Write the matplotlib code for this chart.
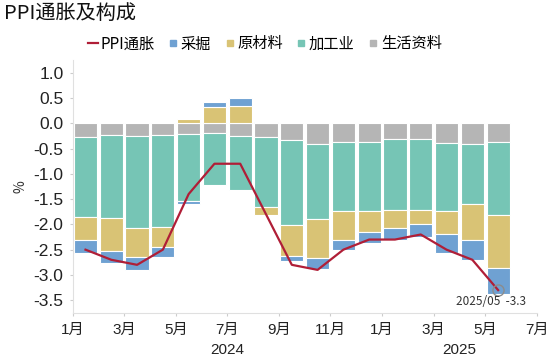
import numpy as np
import matplotlib
matplotlib.use("Agg")
import matplotlib.pyplot as plt
from matplotlib.lines import Line2D
from matplotlib.transforms import blended_transform_factory

plt.rcParams['font.family'] = ['Noto Sans CJK SC', 'DejaVu Sans']
plt.rcParams['axes.unicode_minus'] = False

# 数据 2024/01 - 2025/05
months = ["2024/01", "2024/02", "2024/03", "2024/04", "2024/05", "2024/06",
          "2024/07", "2024/08", "2024/09", "2024/10", "2024/11", "2024/12",
          "2025/01", "2025/02", "2025/03", "2025/04", "2025/05"]
ppi = [-2.5, -2.7, -2.8, -2.5, -1.4, -0.8, -0.8, -1.8, -2.8, -2.9, -2.5, -2.3,
       -2.3, -2.2, -2.5, -2.7, -3.3]
caijue = [-0.26, -0.24, -0.25, -0.20, -0.05, 0.11, 0.16, 0.03, -0.10, -0.22, -0.20, -0.21,
          -0.23, -0.26, -0.36, -0.41, -0.51]
yuancailiao = [-0.44, -0.66, -0.57, -0.38, 0.09, 0.32, 0.34, -0.16, -0.62, -0.77, -0.57, -0.43,
               -0.36, -0.28, -0.47, -0.70, -1.05]
jiagong = [-1.58, -1.63, -1.82, -1.82, -1.32, -1.02, -1.06, -1.37, -1.67, -1.48, -1.36, -1.36,
           -1.39, -1.39, -1.34, -1.19, -1.44]
shenghuo = [-0.28, -0.24, -0.26, -0.24, -0.22, -0.20, -0.26, -0.28, -0.34, -0.41, -0.37, -0.37,
            -0.32, -0.32, -0.39, -0.41, -0.37]

tick_labels = ["1月", "3月", "5月", "7月", "9月", "11月", "1月", "3月", "5月", "7月"]
years = ["2024", "2025"]

c_line = "#B01E37"
c_blue = "#6FA1D2"
c_yellow = "#D9C375"
c_teal = "#76C5B5"
c_gray = "#B5B5B5"

num_font = ['Liberation Sans', 'Noto Sans CJK SC']

x = np.arange(len(months)) + 0.5

fig = plt.figure(figsize=(5.5, 3.6), dpi=100)
ax = fig.add_axes([0.132, 0.131, 0.844, 0.702])

# 堆叠：靠近0依次为 生活资料、加工业、原材料、采掘
series = [(shenghuo, c_gray), (jiagong, c_teal), (yuancailiao, c_yellow), (caijue, c_blue)]
pos_base = np.zeros(len(months))
neg_base = np.zeros(len(months))
for vals, col in series:
    vals = np.array(vals)
    bottom = np.where(vals >= 0, pos_base, neg_base)
    ax.bar(x, vals, width=0.9, bottom=bottom, color=col, edgecolor="white", linewidth=0.8, zorder=2)
    pos_base = pos_base + np.where(vals >= 0, vals, 0)
    neg_base = neg_base + np.where(vals < 0, vals, 0)

ax.plot(x, ppi, color=c_line, linewidth=1.6, zorder=3)
ax.plot(x[-1], ppi[-1], marker="o", markersize=8, markerfacecolor="none",
        markeredgecolor="#8C8C8C", markeredgewidth=1.0, zorder=4)
ax.annotate("2025/05  -3.3", (x[-1], ppi[-1]), xytext=(-5, -8), textcoords="offset points",
            ha="center", va="center", fontsize=8.5, color="#333333", zorder=5)

ax.set_xlim(0, 18)
ax.set_ylim(-3.75, 1.25)
yt = np.arange(-3.5, 1.01, 0.5)
ax.set_yticks(yt)
ax.set_yticklabels([f"{v:.1f}" for v in yt], fontsize=12.5, color="#222222", family=num_font)
ax.set_xticks(np.arange(0, 19, 2))
ax.set_xticklabels(tick_labels, fontsize=11, color="#222222", family=num_font)
ax.tick_params(axis="both", length=2.5, color="#CCCCCC", width=0.8)
ax.tick_params(axis="x", pad=5)
ax.tick_params(axis="y", pad=4)

for s in ["top", "right"]:
    ax.spines[s].set_visible(False)
for s in ["left", "bottom"]:
    ax.spines[s].set_color("#E0E0E0")
    ax.spines[s].set_linewidth(0.8)

trans = blended_transform_factory(ax.transData, ax.transAxes)
ax.text(6, -0.146, years[0], transform=trans, ha="center", va="center", fontsize=11,
        color="#222222", family=num_font)
ax.text(15, -0.146, years[1], transform=trans, ha="center", va="center", fontsize=11,
        color="#222222", family=num_font)

ax.set_ylabel("%", fontsize=10, color="#333333", labelpad=4)

fig.text(0.008, 0.962, "PPI通胀及构成", fontsize=14.5, ha="left", va="center", color="#111111")

handles = [
    Line2D([0], [0], color=c_line, linewidth=1.6),
    Line2D([0], [0], marker="s", linestyle="none", markersize=4, color=c_blue),
    Line2D([0], [0], marker="s", linestyle="none", markersize=4, color=c_yellow),
    Line2D([0], [0], marker="s", linestyle="none", markersize=4, color=c_teal),
    Line2D([0], [0], marker="s", linestyle="none", markersize=4, color=c_gray),
]
labels = ["PPI通胀", "采掘", "原材料", "加工业", "生活资料"]
fig.legend(handles, labels, loc="center", bbox_to_anchor=(0.482, 0.878), ncol=5, frameon=False,
           fontsize=11, handlelength=0.6, handletextpad=0.2, columnspacing=0.9)

fig.savefig("out.png", dpi=100)
